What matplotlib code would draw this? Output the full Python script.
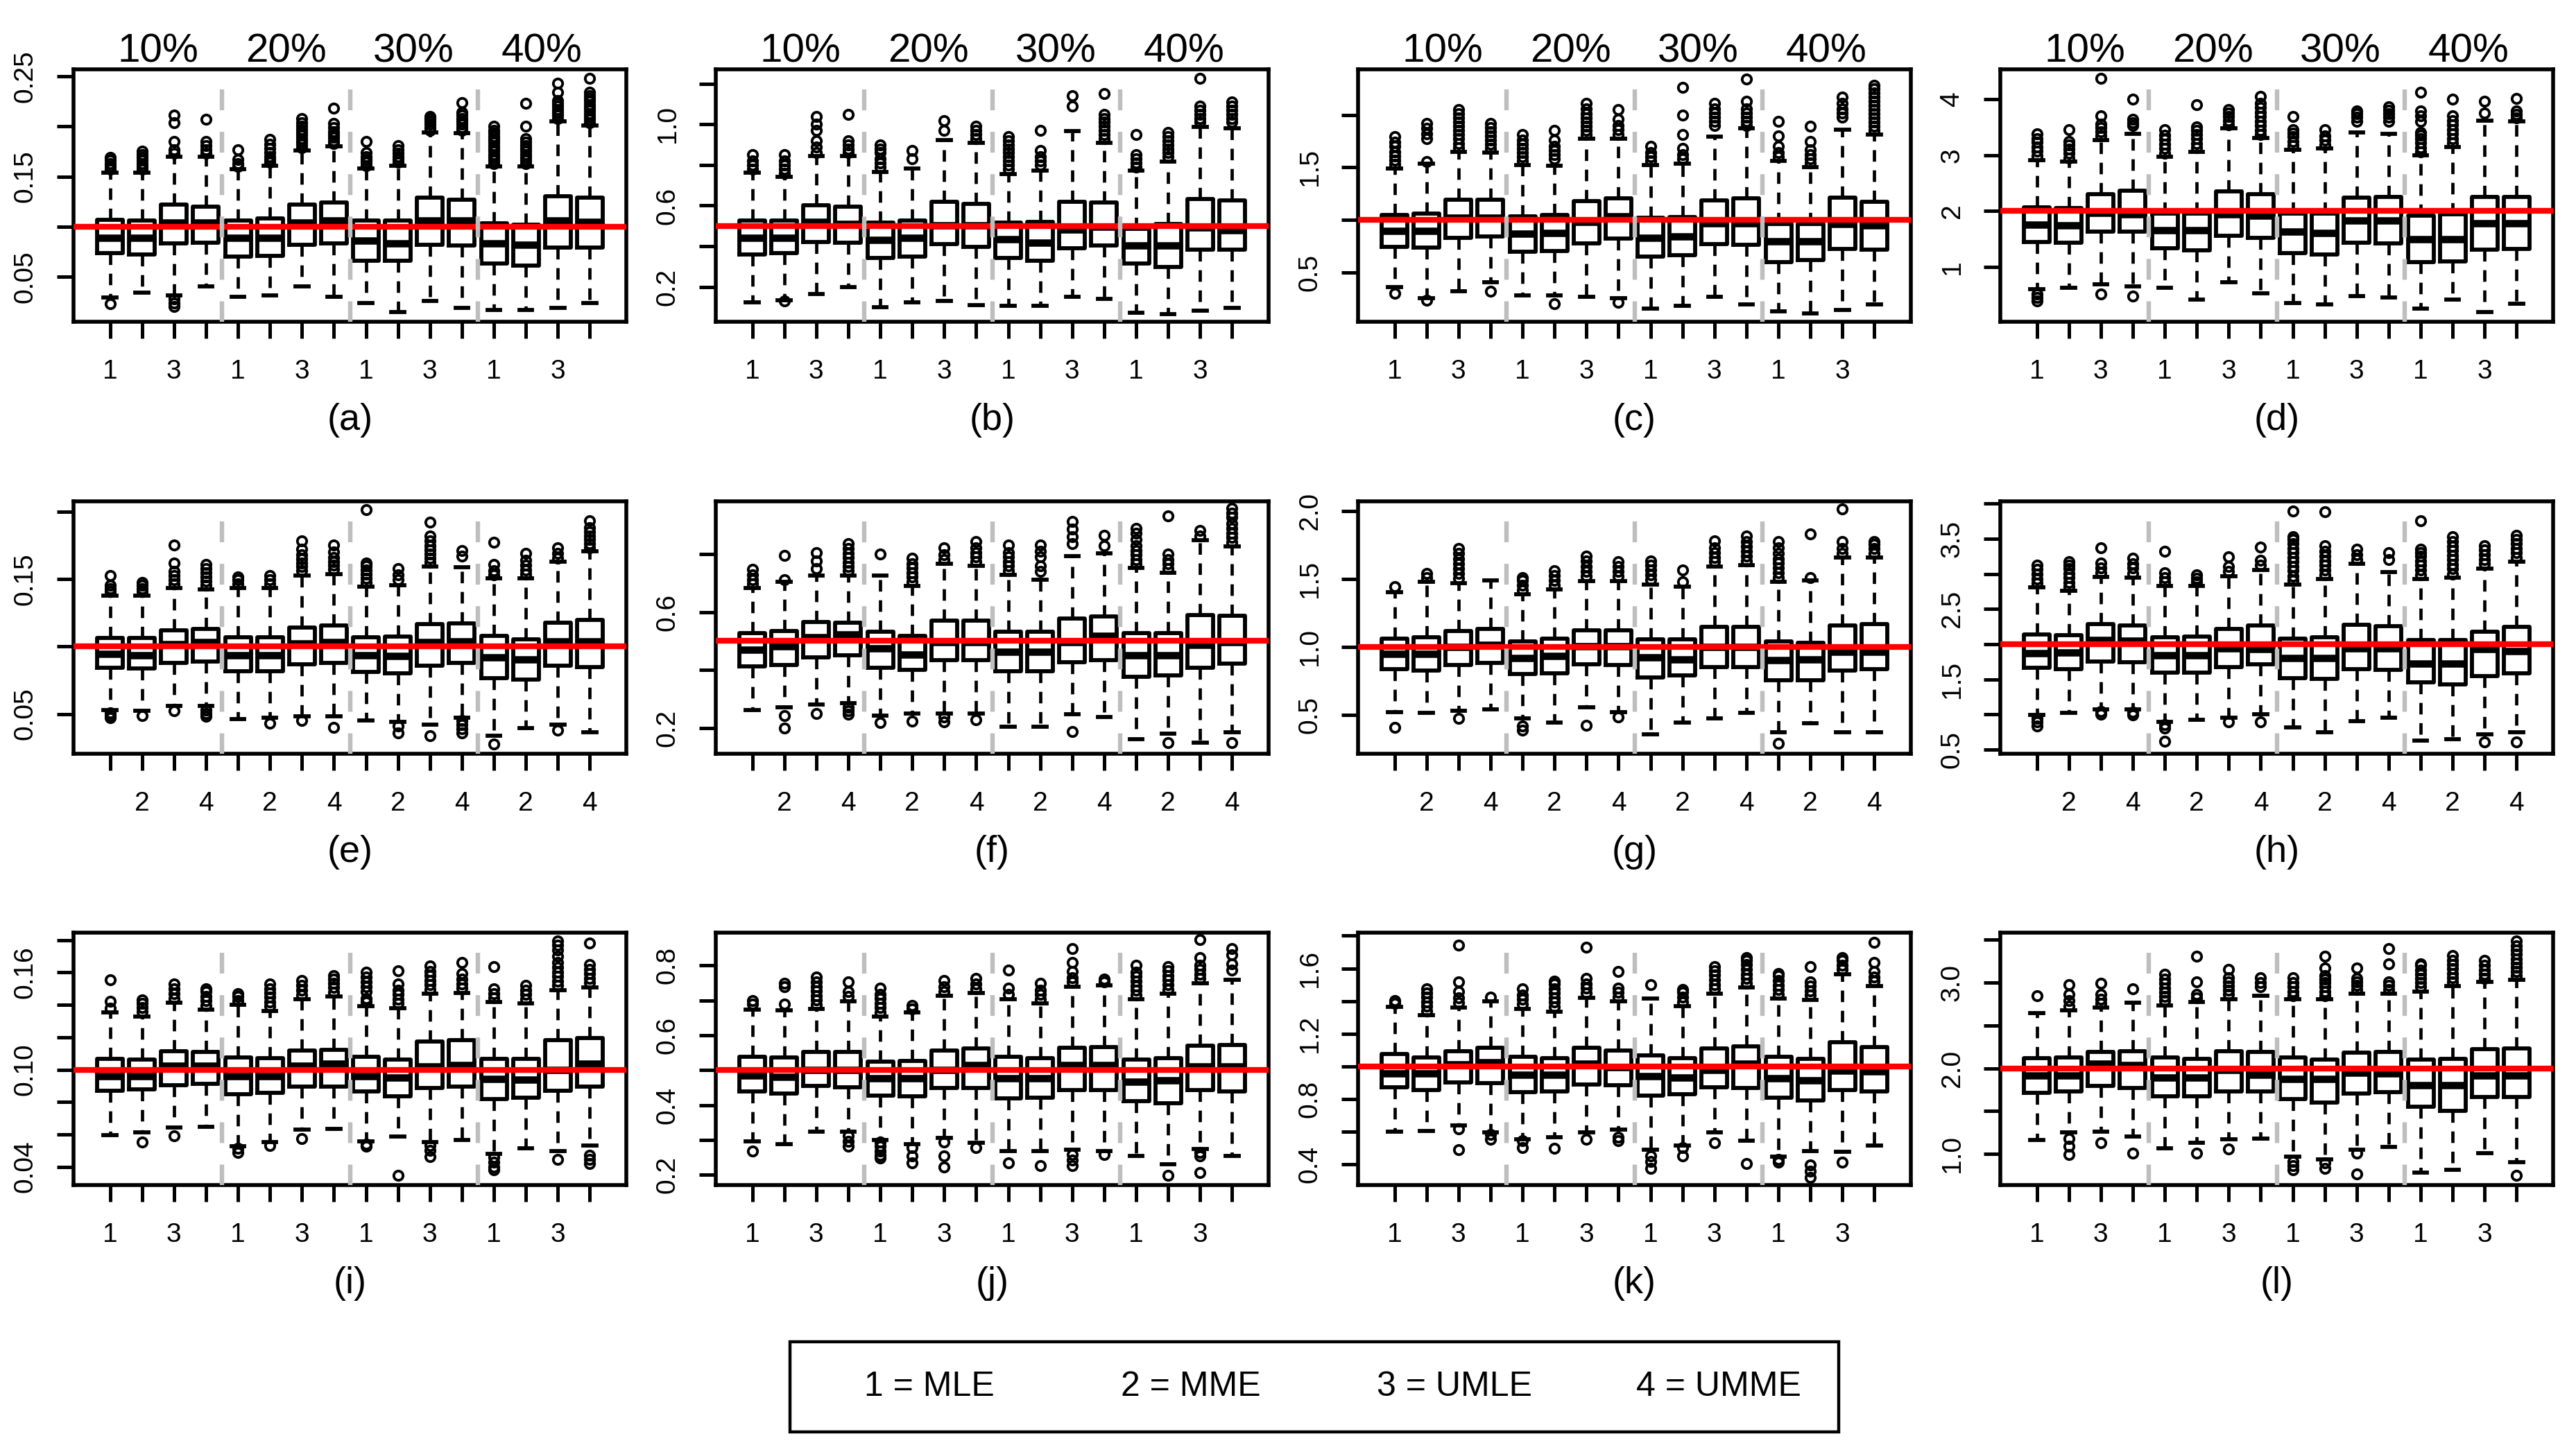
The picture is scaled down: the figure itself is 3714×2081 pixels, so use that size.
import matplotlib
matplotlib.use('Agg')
import matplotlib.pyplot as plt
from matplotlib.patches import Rectangle

plt.rcParams['font.family'] = ['Liberation Sans', 'DejaVu Sans']
plt.rcParams['lines.scale_dashes'] = False

# ---- data: 12 panels x 16 boxes (4 censoring levels x 4 estimators)
q1_a = [0.0735,0.072,0.083,0.084,0.070,0.071,0.082,0.083,0.066,0.066,0.082,0.081,0.063,0.061,0.079,0.079]
med_a = [0.089,0.089,0.104,0.104,0.089,0.089,0.104,0.106,0.086,0.083,0.106,0.106,0.083,0.082,0.106,0.105]
q3_a = [0.107,0.106,0.122,0.120,0.106,0.108,0.122,0.124,0.106,0.106,0.129,0.127,0.103,0.102,0.130,0.129]
lo_a = [0.029,0.034,0.031,0.040,0.030,0.031,0.040,0.030,0.024,0.015,0.026,0.019,0.017,0.017,0.019,0.024]
hi_a = [0.154,0.154,0.170,0.170,0.157,0.161,0.176,0.180,0.158,0.161,0.194,0.193,0.160,0.160,0.205,0.201]
out_a = [[0.157,0.160,0.163,0.166,0.169,0.023],
         [0.157,0.160,0.163,0.166,0.169,0.172,0.175],
         [0.173,0.177,0.185,0.204,0.211,0.028,0.024,0.020],
         [0.173,0.177,0.181,0.185,0.207],
         [0.160,0.163,0.167,0.177],
         [0.164,0.167,0.170,0.174,0.178,0.182,0.187],
         [0.179,0.182,0.185,0.188,0.191,0.194,0.197,0.200,0.204,0.208],
         [0.183,0.186,0.189,0.192,0.195,0.199,0.203,0.218],
         [0.161,0.164,0.167,0.170,0.174,0.185],
         [0.164,0.167,0.170,0.173,0.177,0.181],
         [0.196,0.199,0.202,0.205,0.208,0.210],
         [0.196,0.199,0.202,0.205,0.208,0.211,0.214,0.224],
         [0.163,0.166,0.169,0.172,0.175,0.178,0.181,0.184,0.187,0.190,0.193,0.196,0.200],
         [0.163,0.166,0.169,0.172,0.175,0.178,0.181,0.184,0.188,0.200,0.223],
         [0.208,0.211,0.214,0.217,0.220,0.223,0.226,0.234,0.243],
         [0.204,0.207,0.210,0.213,0.216,0.219,0.222,0.225,0.228,0.231,0.234,0.248]]

q1_b = [0.358,0.367,0.420,0.416,0.343,0.350,0.409,0.398,0.343,0.327,0.391,0.405,0.314,0.299,0.383,0.383]
med_b = [0.442,0.442,0.519,0.508,0.431,0.442,0.504,0.504,0.435,0.416,0.482,0.497,0.402,0.402,0.491,0.480]
q3_b = [0.526,0.526,0.601,0.594,0.517,0.526,0.618,0.610,0.517,0.519,0.618,0.614,0.486,0.508,0.634,0.627]
lo_b = [0.122,0.133,0.166,0.200,0.100,0.122,0.129,0.111,0.105,0.107,0.151,0.142,0.074,0.067,0.083,0.098]
hi_b = [0.762,0.740,0.843,0.843,0.766,0.782,0.923,0.910,0.755,0.773,0.967,0.910,0.773,0.817,0.987,0.982]
out_b = [[0.78,0.80,0.82,0.85],
         [0.76,0.78,0.80,0.82,0.85,0.129],
         [0.86,0.89,0.92,0.97,1.00,1.04],
         [0.86,0.88,0.90,0.92,1.05],
         [0.79,0.81,0.83,0.86,0.88,0.90],
         [0.83,0.87],
         [0.97,1.02],
         [0.93,0.95,0.97,0.99],
         [0.78,0.80,0.82,0.84,0.86,0.88,0.90,0.92,0.94],
         [0.80,0.82,0.84,0.87,0.97],
         [1.09,1.14],
         [0.93,0.95,0.97,0.99,1.01,1.03,1.05,1.15],
         [0.79,0.81,0.83,0.85,0.95],
         [0.84,0.86,0.88,0.90,0.92,0.94,0.96],
         [1.01,1.03,1.05,1.07,1.09,1.225],
         [1.01,1.03,1.05,1.07,1.09,1.11]]

q1_c = [0.745,0.737,0.830,0.843,0.694,0.703,0.775,0.822,0.652,0.660,0.767,0.763,0.596,0.618,0.724,0.716]
med_c = [0.895,0.895,1.023,1.023,0.865,0.873,0.980,1.031,0.831,0.839,0.967,0.967,0.797,0.797,0.959,0.946]
q3_c = [1.044,1.057,1.189,1.193,1.035,1.044,1.180,1.202,1.018,1.027,1.185,1.202,0.959,0.959,1.214,1.172]
lo_c = [0.362,0.255,0.319,0.404,0.277,0.277,0.268,0.255,0.157,0.179,0.264,0.191,0.127,0.106,0.140,0.191]
hi_c = [1.490,1.534,1.650,1.640,1.521,1.513,1.770,1.770,1.521,1.534,1.790,1.875,1.564,1.500,1.862,1.810]
out_c = [[1.53,1.57,1.61,1.65,1.70,1.74,1.79,0.298],
         [1.555,1.77,1.82,1.87,1.92,0.234],
         [1.69,1.73,1.77,1.81,1.85,1.89,1.93,1.97,2.01,2.05],
         [1.68,1.72,1.76,1.80,1.84,1.88,1.92,0.319],
         [1.56,1.60,1.64,1.68,1.72,1.76,1.81],
         [1.58,1.62,1.66,1.70,1.76,1.85,0.20],
         [1.81,1.85,1.89,1.93,1.97,2.01,2.06,2.11],
         [1.81,1.86,1.90,1.96,2.05,0.213],
         [1.56,1.60,1.64,1.70],
         [1.58,1.62,1.68,1.81,2.00,2.26],
         [1.90,1.94,1.98,2.02,2.06,2.11],
         [1.90,1.94,1.98,2.02,2.06,2.13,2.34],
         [1.60,1.64,1.70,1.80,1.94],
         [1.54,1.58,1.62,1.67,1.75,1.89],
         [1.98,2.02,2.06,2.11,2.17],
         [1.85,1.89,1.93,1.97,2.01,2.05,2.09,2.13,2.17,2.21,2.25,2.28]]

q1_d = [1.449,1.439,1.629,1.629,1.336,1.295,1.552,1.526,1.243,1.218,1.434,1.424,1.089,1.099,1.305,1.321]
med_d = [1.758,1.748,1.964,1.938,1.655,1.655,1.938,1.913,1.629,1.604,1.835,1.835,1.501,1.501,1.784,1.784]
q3_d = [2.067,2.057,2.298,2.365,1.954,1.954,2.350,2.298,1.954,1.954,2.242,2.257,1.913,1.938,2.247,2.247]
lo_d = [0.600,0.626,0.688,0.652,0.626,0.410,0.729,0.533,0.358,0.327,0.482,0.456,0.255,0.410,0.188,0.343]
hi_d = [2.916,2.880,3.276,3.379,2.968,3.055,3.482,3.302,3.096,3.122,3.405,3.379,2.993,3.148,3.621,3.611]
out_d = [[2.99,3.07,3.15,3.23,3.30,3.38,0.52,0.45,0.39],
         [2.95,3.03,3.11,3.18,3.25,3.46],
         [3.34,3.42,3.49,3.56,3.71,4.38,0.52],
         [3.53,3.58,3.64,4.00,0.48],
         [3.04,3.12,3.20,3.28,3.36,3.46],
         [3.13,3.21,3.29,3.37,3.44,3.51,3.91],
         [3.55,3.62,3.69,3.76,3.82],
         [3.37,3.45,3.53,3.61,3.69,3.77,3.85,3.93,4.05],
         [3.17,3.25,3.33,3.40,3.46,3.69],
         [3.19,3.27,3.35,3.46],
         [3.61,3.68,3.74,3.79],
         [3.61,3.68,3.74,3.80,3.87],
         [3.06,3.14,3.22,3.30,3.36,3.41,3.61,3.70,3.79,4.13],
         [3.22,3.30,3.38,3.46,3.54,3.62,3.71,4.00],
         [3.755,3.97],
         [3.67,3.73,3.79,4.02]]

q1_e = [0.0840,0.0835,0.0876,0.0890,0.0815,0.0815,0.0870,0.0876,0.0809,0.0800,0.0856,0.0876,0.0764,0.0754,0.0860,0.0846]
med_e = [0.0947,0.0937,0.1018,0.1033,0.0937,0.0937,0.1024,0.1033,0.0937,0.0930,0.1030,0.1035,0.0917,0.0906,0.1035,0.1039]
q3_e = [0.1065,0.1063,0.1120,0.1130,0.1070,0.1070,0.1140,0.1155,0.1070,0.1073,0.1167,0.1170,0.1077,0.1053,0.1175,0.1195]
lo_e = [0.0530,0.0524,0.0561,0.0560,0.0463,0.0470,0.0484,0.0484,0.0450,0.0439,0.0423,0.0470,0.0337,0.0394,0.0423,0.0362]
hi_e = [0.1374,0.1374,0.1435,0.1425,0.1435,0.1435,0.1527,0.1537,0.1445,0.1455,0.1594,0.1588,0.1506,0.1506,0.1628,0.1703]
out_e = [[0.1405,0.1430,0.1455,0.1527,0.0510,0.0490,0.0470],
         [0.1405,0.1430,0.1455,0.1476,0.0490],
         [0.1465,0.1495,0.1525,0.1557,0.1618,0.1750,0.0524],
         [0.1455,0.1485,0.1515,0.1545,0.1575,0.1610,0.0530,0.0505,0.0480],
         [0.1465,0.1495,0.1516],
         [0.1465,0.1495,0.1527,0.0429],
         [0.1560,0.1590,0.1620,0.1650,0.1680,0.1720,0.1780,0.0450],
         [0.1570,0.1600,0.1630,0.1660,0.1700,0.1750,0.0400],
         [0.1475,0.1505,0.1535,0.1565,0.1595,0.1620,0.2015],
         [0.1496,0.1530,0.1577,0.0408,0.0357],
         [0.1625,0.1655,0.1685,0.1715,0.1745,0.1780,0.1820,0.1920,0.0337],
         [0.1670,0.1710,0.0450,0.0420,0.0390,0.0360],
         [0.1530,0.1560,0.1610,0.1770,0.0276],
         [0.1535,0.1565,0.1600,0.1640,0.1690],
         [0.1655,0.1690,0.1730,0.0378],
         [0.1730,0.1760,0.1790,0.1820,0.1850,0.1880,0.1930]]

q1_f = [0.412,0.417,0.443,0.451,0.408,0.402,0.435,0.435,0.397,0.397,0.428,0.435,0.377,0.382,0.409,0.423]
med_f = [0.469,0.482,0.512,0.523,0.474,0.454,0.497,0.497,0.463,0.463,0.497,0.517,0.451,0.451,0.486,0.497]
q3_f = [0.528,0.534,0.566,0.563,0.531,0.517,0.571,0.571,0.531,0.531,0.577,0.585,0.528,0.528,0.589,0.586]
lo_f = [0.262,0.271,0.282,0.286,0.243,0.251,0.251,0.251,0.205,0.205,0.248,0.238,0.162,0.182,0.151,0.185]
hi_f = [0.682,0.705,0.725,0.725,0.725,0.689,0.766,0.758,0.728,0.712,0.792,0.801,0.751,0.735,0.848,0.825]
out_f = [[0.697,0.712,0.728,0.746],
         [0.712,0.794,0.243,0.200],
         [0.750,0.775,0.805,0.251],
         [0.742,0.757,0.772,0.788,0.803,0.819,0.835,0.272,0.260,0.248],
         [0.800,0.220],
         [0.704,0.720,0.735,0.751,0.767,0.786,0.225],
         [0.781,0.797,0.820,0.238,0.223],
         [0.774,0.790,0.805,0.820,0.843,0.228],
         [0.743,0.758,0.774,0.790,0.805,0.830],
         [0.740,0.760,0.790,0.810,0.830],
         [0.835,0.860,0.885,0.912,0.189],
         [0.828,0.863],
         [0.766,0.781,0.797,0.812,0.828,0.850,0.870,0.889],
         [0.750,0.765,0.780,0.800,0.931,0.151],
         [0.862,0.880],
         [0.840,0.856,0.872,0.888,0.905,0.925,0.940,0.958,0.151]]

q1_g = [0.835,0.829,0.868,0.885,0.802,0.809,0.875,0.868,0.776,0.792,0.852,0.852,0.753,0.753,0.829,0.835]
med_g = [0.951,0.951,1.000,1.016,0.918,0.934,1.007,1.007,0.924,0.908,1.000,1.000,0.901,0.908,0.967,0.967]
q3_g = [1.059,1.073,1.115,1.132,1.040,1.059,1.125,1.125,1.056,1.056,1.148,1.148,1.040,1.033,1.158,1.171]
lo_g = [0.522,0.515,0.529,0.539,0.473,0.446,0.555,0.522,0.357,0.446,0.473,0.515,0.374,0.440,0.374,0.374]
hi_g = [1.405,1.478,1.471,1.488,1.389,1.422,1.485,1.485,1.461,1.445,1.593,1.600,1.478,1.488,1.659,1.659]
out_g = [[1.445,0.407],
         [1.510,1.540],
         [1.505,1.540,1.575,1.610,1.650,1.690,1.725,0.473],
         [],
         [1.420,1.455,1.490,1.510,0.420,0.390],
         [1.455,1.490,1.525,1.560],
         [1.520,1.555,1.590,1.630,1.666,0.423],
         [1.520,1.555,1.590,1.626,0.483],
         [1.495,1.530,1.565,1.600,1.630],
         [1.478,1.567],
         [1.625,1.660,1.695,1.730,1.780],
         [1.635,1.670,1.705,1.740,1.775,1.817],
         [1.510,1.545,1.580,1.615,1.650,1.690,1.730,1.775,0.291],
         [1.510,1.830],
         [1.690,1.725,1.775,2.015],
         [1.690,1.725,1.755,1.775]]

q1_h = [1.662,1.646,1.754,1.744,1.596,1.596,1.669,1.711,1.514,1.504,1.646,1.636,1.459,1.432,1.547,1.587]
med_h = [1.875,1.885,2.056,2.049,1.843,1.843,1.941,1.931,1.800,1.800,1.941,1.941,1.728,1.721,1.931,1.898]
q3_h = [2.138,2.128,2.285,2.269,2.095,2.105,2.220,2.269,2.082,2.095,2.279,2.259,2.062,2.056,2.177,2.246]
lo_h = [0.990,1.022,1.071,1.071,0.891,0.924,0.957,1.000,0.816,0.750,0.907,0.957,0.629,0.645,0.717,0.743]
hi_h = [2.810,2.761,2.958,2.948,2.827,2.827,2.968,3.056,2.850,2.925,3.139,3.024,2.925,2.942,3.073,3.171]
out_h = [[2.87,2.93,3.00,3.06,3.12,0.94,0.89,0.84],
         [2.82,2.88,2.95,3.01,3.07,3.12,3.17],
         [3.02,3.08,3.15,3.37,1.04,1.00],
         [3.01,3.08,3.14,3.22,1.03,0.99],
         [2.89,2.95,3.02,3.32,0.86,0.81,0.62],
         [2.89,2.94,2.99],
         [3.03,3.10,3.24,0.89],
         [3.12,3.19,3.38,0.89],
         [2.91,2.97,3.04,3.10,3.17,3.23,3.30,3.36,3.43,3.49,3.53,3.89],
         [2.99,3.05,3.12,3.18,3.25,3.32,3.40,3.88],
         [3.20,3.27,3.35],
         [3.20,3.30],
         [2.99,3.05,3.12,3.18,3.25,3.30,3.35,3.75],
         [3.00,3.07,3.13,3.20,3.26,3.33,3.39,3.46,3.53],
         [3.14,3.20,3.27,3.34,3.40,0.612],
         [3.23,3.30,3.36,3.43,3.49,3.55,0.606]]

q1_i = [0.0869,0.0877,0.0902,0.0914,0.0847,0.0855,0.0894,0.0894,0.0864,0.0835,0.0885,0.0894,0.0818,0.0826,0.0869,0.0894]
med_i = [0.0961,0.0961,0.1025,0.1022,0.0961,0.0961,0.1025,0.1037,0.0961,0.0953,0.1020,0.1029,0.0944,0.0936,0.0998,0.1037]
q3_i = [0.1066,0.1062,0.1113,0.1108,0.1074,0.1071,0.1116,0.1121,0.1079,0.1062,0.1172,0.1180,0.1066,0.1066,0.1180,0.1194]
lo_i = [0.0594,0.0611,0.0641,0.0645,0.0527,0.0553,0.0628,0.0633,0.0557,0.0587,0.0553,0.0565,0.0481,0.0515,0.0498,0.0532]
hi_i = [0.1352,0.1329,0.1413,0.1369,0.1399,0.1362,0.1433,0.1450,0.1391,0.1379,0.1467,0.1475,0.1416,0.1408,0.1492,0.1509]
out_i = [[0.1380,0.1420,0.1554],
         [0.1357,0.1385,0.1410,0.1430,0.0553],
         [0.1440,0.1470,0.1500,0.1530,0.0590],
         [0.1397,0.1425,0.1453,0.1480,0.1500],
         [0.1427,0.1450,0.1467,0.0515,0.0490],
         [0.1390,0.1418,0.1446,0.1474,0.1500,0.1530,0.0530],
         [0.1460,0.1490,0.1520,0.1550,0.0574],
         [0.1478,0.1506,0.1534,0.1560,0.1580],
         [0.1419,0.1440,0.1480,0.1510,0.1540,0.1570,0.1600,0.0540,0.0527],
         [0.1407,0.1435,0.1463,0.1490,0.1530,0.1610,0.0346],
         [0.1495,0.1523,0.1551,0.1579,0.1607,0.1640,0.0530,0.0500,0.0464],
         [0.1503,0.1531,0.1559,0.1593,0.1660],
         [0.1444,0.1470,0.1500,0.1635,0.0460,0.0430,0.0400,0.0380],
         [0.1436,0.1464,0.1492,0.1520],
         [0.1520,0.1548,0.1576,0.1604,0.1632,0.1660,0.1700,0.1740,0.1770,0.1795,0.0447],
         [0.1537,0.1565,0.1593,0.1621,0.1650,0.1780,0.0470,0.0445,0.0420]]

q1_j = [0.439,0.434,0.456,0.451,0.428,0.426,0.449,0.449,0.419,0.421,0.443,0.443,0.411,0.406,0.443,0.439]
med_j = [0.485,0.481,0.500,0.500,0.476,0.477,0.500,0.514,0.477,0.477,0.514,0.514,0.466,0.470,0.511,0.511]
q3_j = [0.538,0.537,0.552,0.553,0.525,0.527,0.557,0.562,0.538,0.535,0.565,0.567,0.530,0.534,0.570,0.572]
lo_j = [0.297,0.288,0.323,0.324,0.300,0.288,0.306,0.293,0.269,0.269,0.272,0.269,0.254,0.230,0.275,0.255]
hi_j = [0.673,0.671,0.675,0.698,0.653,0.666,0.713,0.721,0.704,0.691,0.739,0.744,0.703,0.719,0.749,0.759]
out_j = [[0.690,0.700,0.269],
         [0.690,0.739,0.749],
         [0.688,0.701,0.714,0.727,0.740,0.753,0.766],
         [0.711,0.726,0.753,0.312,0.297,0.282],
         [0.666,0.679,0.692,0.705,0.718,0.736,0.295,0.282,0.269,0.256,0.249],
         [0.676,0.686,0.278,0.255,0.235],
         [0.726,0.739,0.756,0.295,0.255,0.222],
         [0.734,0.747,0.763,0.279],
         [0.717,0.736,0.786,0.235],
         [0.704,0.717,0.730,0.749,0.227],
         [0.752,0.765,0.782,0.809,0.849,0.259,0.242,0.226],
         [0.752,0.760,0.259],
         [0.716,0.729,0.742,0.755,0.768,0.781,0.800],
         [0.732,0.745,0.758,0.771,0.784,0.796,0.199],
         [0.762,0.775,0.788,0.801,0.822,0.875,0.264,0.255,0.206],
         [0.786,0.805,0.830,0.849]]

q1_k = [0.872,0.855,0.901,0.897,0.844,0.847,0.889,0.887,0.823,0.830,0.872,0.870,0.809,0.790,0.855,0.847]
med_k = [0.957,0.957,1.014,1.026,0.950,0.950,1.018,0.997,0.940,0.932,0.979,1.017,0.929,0.915,0.975,0.972]
q3_k = [1.078,1.057,1.095,1.113,1.060,1.052,1.113,1.099,1.068,1.052,1.111,1.125,1.060,1.045,1.149,1.120]
lo_k = [0.600,0.603,0.639,0.596,0.554,0.568,0.596,0.615,0.490,0.515,0.596,0.544,0.450,0.483,0.479,0.515]
hi_k = [1.366,1.315,1.361,1.397,1.354,1.337,1.422,1.397,1.414,1.368,1.446,1.482,1.414,1.408,1.564,1.493]
out_k = [[1.385,1.404],
         [1.340,1.368,1.396,1.424,1.450,1.475],
         [1.390,1.420,1.460,1.517,1.744,0.617,0.490],
         [1.425,0.582,0.554],
         [1.382,1.410,1.438,1.475,0.547,0.504],
         [1.365,1.393,1.421,1.449,1.477,1.505,1.524,0.497],
         [1.450,1.478,1.506,1.538,1.730,0.554],
         [1.425,1.453,1.480,1.580,0.568,0.547],
         [1.500,0.454,0.420,0.377],
         [1.396,1.424,1.452,1.470,0.504,0.454],
         [1.474,1.502,1.530,1.558,1.586,1.610,0.532],
         [1.510,1.538,1.566,1.594,1.622,1.650,1.666,0.405],
         [1.442,1.470,1.498,1.526,1.554,1.567,0.433,0.412],
         [1.436,1.464,1.492,1.517,1.609,0.398,0.360,0.320],
         [1.592,1.620,1.648,1.666,0.412],
         [1.521,1.549,1.580,1.638,1.758]]

q1_l = [1.711,1.730,1.792,1.773,1.670,1.670,1.730,1.730,1.643,1.603,1.703,1.719,1.549,1.508,1.665,1.665]
med_l = [1.914,1.914,2.054,2.035,1.894,1.894,1.981,1.927,1.873,1.873,1.946,1.941,1.805,1.805,1.919,1.919]
q3_l = [2.122,2.130,2.189,2.203,2.130,2.108,2.197,2.189,2.124,2.103,2.184,2.189,2.103,2.108,2.224,2.232]
lo_l = [1.162,1.251,1.265,1.205,1.070,1.130,1.170,1.184,0.967,0.940,1.049,1.081,0.784,0.819,1.008,0.908]
hi_l = [2.643,2.676,2.711,2.765,2.738,2.778,2.811,2.846,2.805,2.805,2.873,2.873,2.900,2.962,3.008,3.035]
out_l = [[2.846],
         [2.730,2.790,2.860,2.980,1.180,1.090,0.995],
         [2.760,2.810,2.860,2.995,1.130],
         [2.927,1.008],
         [2.790,2.840,2.890,2.940,2.990,3.045,3.100],
         [2.820,2.860,3.010,3.305,1.008],
         [2.860,2.910,2.960,3.010,3.060,3.157,1.062],
         [2.950,3.000,3.060],
         [2.850,2.900,2.950,3.000,3.060,0.913,0.866,0.819],
         [2.850,2.900,2.950,3.000,3.040,3.080,3.170,3.305,0.900,0.830],
         [2.920,2.970,3.010,3.050,3.170,1.008,0.765],
         [2.920,2.970,3.010,3.220,3.400],
         [2.950,3.000,3.050,3.100,3.150,3.200,3.220],
         [3.010,3.060,3.110,3.160,3.210,3.260,3.320],
         [3.050,3.100,3.150,3.200,3.260],
         [3.080,3.130,3.180,3.230,3.280,3.330,3.380,3.430,3.490,0.750]]

true_values = [0.1, 0.5, 1.0, 2.0] * 3
percent_labels = ['10%', '20%', '30%', '40%']
legend_labels = ['1 = MLE', '2 = MME', '3 = UMLE', '4 = UMME']
panel_letters = list('abcdefghijkl')

# axis ranges and tick labels per panel
ylims = [(0.005, 0.257), (0.028, 1.271), (0.029, 2.434), (0.019, 4.537),
         (0.0205, 0.2075), (0.112, 0.981), (0.215, 2.071), (0.441, 4.031),
         (0.0287, 0.1846), (0.171, 0.894), (0.274, 1.819), (0.638, 3.584)]
yticks = [[0.05, 0.10, 0.15, 0.20, 0.25], [0.2, 0.4, 0.6, 0.8, 1.0, 1.2],
          [0.5, 1.0, 1.5, 2.0], [1, 2, 3, 4],
          [0.05, 0.10, 0.15, 0.20], [0.2, 0.4, 0.6, 0.8],
          [0.5, 1.0, 1.5, 2.0], [0.5, 1.0, 1.5, 2.0, 2.5, 3.0, 3.5, 4.0],
          [0.04, 0.06, 0.08, 0.10, 0.12, 0.14, 0.16, 0.18],
          [0.2, 0.3, 0.4, 0.5, 0.6, 0.7, 0.8],
          [0.4, 0.6, 0.8, 1.0, 1.2, 1.4, 1.6, 1.8],
          [1.0, 1.5, 2.0, 2.5, 3.0, 3.5]]
ytlabels = [['0.05', '', '0.15', '', '0.25'], ['0.2', '', '0.6', '', '1.0', ''],
            ['0.5', '', '1.5', ''], ['1', '2', '3', '4'],
            ['0.05', '', '0.15', ''], ['0.2', '', '0.6', ''],
            ['0.5', '1.0', '1.5', '2.0'], ['0.5', '', '1.5', '', '2.5', '', '3.5', ''],
            ['0.04', '', '', '0.10', '', '', '0.16', ''],
            ['0.2', '', '0.4', '', '0.6', '', '0.8'],
            ['0.4', '', '0.8', '', '1.2', '', '1.6', ''],
            ['1.0', '', '2.0', '', '3.0', '']]

Q1 = [q1_a, q1_b, q1_c, q1_d, q1_e, q1_f, q1_g, q1_h, q1_i, q1_j, q1_k, q1_l]
MED = [med_a, med_b, med_c, med_d, med_e, med_f, med_g, med_h, med_i, med_j, med_k, med_l]
Q3 = [q3_a, q3_b, q3_c, q3_d, q3_e, q3_f, q3_g, q3_h, q3_i, q3_j, q3_k, q3_l]
LO = [lo_a, lo_b, lo_c, lo_d, lo_e, lo_f, lo_g, lo_h, lo_i, lo_j, lo_k, lo_l]
HI = [hi_a, hi_b, hi_c, hi_d, hi_e, hi_f, hi_g, hi_h, hi_i, hi_j, hi_k, hi_l]
OUT = [out_a, out_b, out_c, out_d, out_e, out_f, out_g, out_h, out_i, out_j, out_k, out_l]

W, H = 3714, 2081
fig = plt.figure(figsize=(W / 200, H / 200), dpi=200)

col_left = [106, 1032, 1958, 2884]
row_top = [100, 723, 1345]
aw, ah = 797, 364
positions = list(range(1, 17))

for p in range(12):
    r, c = divmod(p, 4)
    ax = fig.add_axes([col_left[c] / W, 1 - (row_top[r] + ah) / H, aw / W, ah / H])
    stats = []
    for k in range(16):
        stats.append(dict(med=MED[p][k], q1=Q1[p][k], q3=Q3[p][k],
                          whislo=LO[p][k], whishi=HI[p][k], fliers=OUT[p][k]))
    ax.bxp(stats, positions=positions, widths=0.8, capwidths=0.4,
           manage_ticks=False,
           boxprops=dict(color='black', lw=2.1),
           medianprops=dict(color='black', lw=3.8, solid_capstyle='butt'),
           whiskerprops=dict(color='black', lw=1.7, linestyle=(0, (6, 4.5))),
           capprops=dict(color='black', lw=2.1),
           flierprops=dict(marker='o', markersize=4.8, markerfacecolor='none',
                           markeredgecolor='black', markeredgewidth=1.4))
    ax.axhline(true_values[p], color='red', lw=3, zorder=5)
    for xs in [4.5, 8.5, 12.5]:
        ax.plot([xs, xs], [0.92, 0.0], transform=ax.get_xaxis_transform(),
                color='#BEBEBE', lw=2.3, linestyle=(0, (10.8, 11.2)), zorder=6,
                clip_on=False)
    ax.set_xlim(-0.14, 17.14)
    ax.set_ylim(*ylims[p])
    ax.set_xticks(positions)
    if r == 1:
        ax.set_xticklabels(['', '2', '', '4'] * 4)
    else:
        ax.set_xticklabels(['1', '', '3', ''] * 4)
    ax.set_yticks(yticks[p])
    ax.set_yticklabels(ytlabels[p], rotation=90, va='center')
    ax.tick_params(axis='both', direction='out', length=8.5, width=1.8, labelsize=14)
    ax.tick_params(axis='x', pad=11)
    ax.tick_params(axis='y', pad=10)
    for s in ax.spines.values():
        s.set_linewidth(2)
    ax.text(0.5, -0.39, '(' + panel_letters[p] + ')', transform=ax.transAxes,
            ha='center', va='center', fontsize=19.5)
    if r == 0:
        for g, lab in enumerate(percent_labels):
            ax.text(2.5 + 4 * g, 1.03, lab, transform=ax.get_xaxis_transform(),
                    ha='center', va='baseline', fontsize=21)

# legend box at the bottom
fig.patches.append(Rectangle((1139 / W, 1 - 2065 / H), (2651 - 1139) / W, 130 / H,
                             transform=fig.transFigure, fill=False, lw=1.6,
                             edgecolor='black'))
for xc, lab in zip([1340, 1717, 2097, 2478], legend_labels):
    fig.text(xc / W, 1 - 2000 / H, lab, ha='center', va='center', fontsize=18)

fig.savefig('out.png', dpi=200)
